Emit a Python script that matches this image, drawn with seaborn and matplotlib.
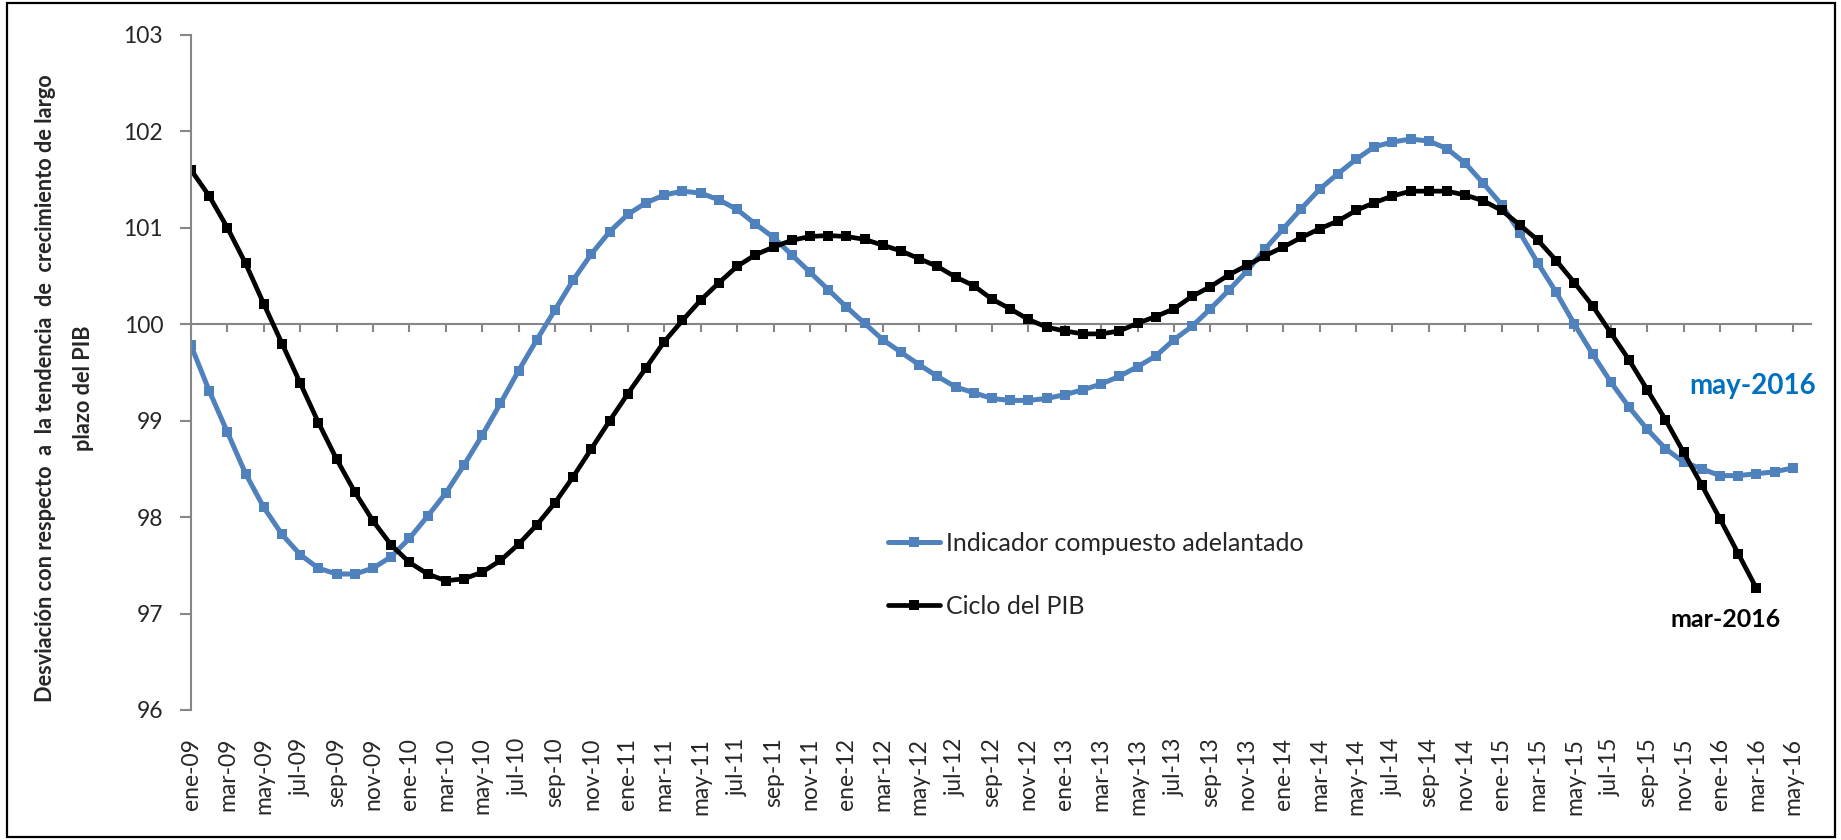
import matplotlib
matplotlib.use("Agg")
import matplotlib.pyplot as plt
import seaborn as sns
import pandas as pd
from matplotlib.patches import Rectangle

# monthly data, ene-2009 .. may-2016
indicador = [99.78, 99.31, 98.88, 98.45, 98.10, 97.82, 97.61, 97.47, 97.41, 97.41,
             97.47, 97.59, 97.78, 98.01, 98.25, 98.54, 98.85, 99.18, 99.52, 99.84,
             100.15, 100.46, 100.73, 100.96, 101.14, 101.26, 101.34, 101.38, 101.36, 101.29,
             101.19, 101.04, 100.90, 100.72, 100.54, 100.36, 100.18, 100.01, 99.84, 99.71,
             99.58, 99.46, 99.35, 99.29, 99.23, 99.21, 99.21, 99.23, 99.27, 99.32,
             99.38, 99.46, 99.56, 99.67, 99.84, 99.98, 100.16, 100.35, 100.55, 100.78,
             100.99, 101.20, 101.40, 101.56, 101.71, 101.84, 101.89, 101.92, 101.90, 101.82,
             101.67, 101.46, 101.24, 100.95, 100.63, 100.33, 100.00, 99.69, 99.40, 99.14,
             98.91, 98.71, 98.57, 98.50, 98.43, 98.43, 98.45, 98.47, 98.51]

ciclo_pib = [101.60, 101.33, 101.00, 100.63, 100.21, 99.80, 99.39, 98.98, 98.60, 98.26,
             97.96, 97.71, 97.53, 97.41, 97.34, 97.36, 97.43, 97.55, 97.72, 97.92,
             98.15, 98.42, 98.71, 99.00, 99.28, 99.55, 99.82, 100.04, 100.25, 100.43,
             100.60, 100.72, 100.80, 100.87, 100.91, 100.92, 100.91, 100.88, 100.82, 100.76,
             100.68, 100.60, 100.49, 100.40, 100.26, 100.16, 100.05, 99.97, 99.93, 99.90,
             99.90, 99.93, 100.01, 100.08, 100.16, 100.29, 100.39, 100.51, 100.61, 100.71,
             100.80, 100.90, 100.99, 101.07, 101.18, 101.26, 101.33, 101.38, 101.38, 101.38,
             101.34, 101.28, 101.18, 101.03, 100.87, 100.66, 100.43, 100.19, 99.91, 99.63,
             99.32, 99.01, 98.67, 98.33, 97.98, 97.62, 97.26]

meses = ["ene", "mar", "may", "jul", "sep", "nov"]
anios = ["09", "10", "11", "12", "13", "14", "15", "16"]
tick_labels = [f"{m}-{a}" for a in anios for m in meses][:-3]  # ... may-16
y_ticks = [96, 97, 98, 99, 100, 101, 102, 103]

df_ind = pd.DataFrame({"mes": range(len(indicador)), "valor": indicador})
df_pib = pd.DataFrame({"mes": range(len(ciclo_pib)), "valor": ciclo_pib})

sns.set_style("white")
plt.rcParams["font.family"] = ["Lato", "DejaVu Sans"]

AZUL = "#4F81BD"
GRIS = "#868686"

fig = plt.figure(figsize=(18.41, 8.40), dpi=100)
ax = fig.add_axes([0.10375, 0.1548, 0.8800, 0.8036])

sns.lineplot(data=df_ind, x="mes", y="valor", ax=ax, color=AZUL, linewidth=3.6,
             marker="s", markersize=6.5, markeredgewidth=0,
             label="Indicador compuesto adelantado")
sns.lineplot(data=df_pib, x="mes", y="valor", ax=ax, color="black", linewidth=3.4,
             marker="s", markersize=6.5, markeredgewidth=0, label="Ciclo del PIB")

ax.set_xlim(0, 89)
ax.set_ylim(96, 103)
ax.set_yticks(y_ticks)
ax.set_xticks(range(0, len(indicador), 2))
ax.set_xticklabels(tick_labels, rotation=90, fontsize=16.5)
ax.tick_params(axis="x", length=0, pad=20)
ax.tick_params(axis="y", labelsize=16.5, length=8, width=1.5, color=GRIS,
               direction="out", pad=12, left=True)
ax.set_xlabel("")
ax.set_ylabel("")

for s in ["top", "right", "bottom"]:
    ax.spines[s].set_visible(False)
ax.spines["left"].set_color(GRIS)
ax.spines["left"].set_linewidth(1.5)

# horizontal axis crossing at 100 with its own tick marks
sec = ax.secondary_xaxis((100 - 96) / 7)
sec.set_xticks(range(0, len(indicador), 2))
sec.set_xticklabels([])
sec.tick_params(direction="in", length=6, width=1.5, color=GRIS)
for s in sec.spines.values():
    s.set_color(GRIS)
    s.set_linewidth(1.5)

leg = ax.legend(loc="center left", bbox_to_anchor=(0.430, 0.2), frameon=False,
                fontsize=18, handlelength=2.1, handletextpad=0.25,
                labelspacing=1.6, borderpad=0, borderaxespad=0)

ax.annotate("may-2016", xy=(len(indicador) - 1, indicador[-1]),
            xytext=(-29, 59), textcoords="offset points", ha="center", va="center",
            fontsize=20, fontweight="bold", color="#0070C0")
ax.annotate("mar-2016", xy=(len(ciclo_pib) - 1, ciclo_pib[-1]),
            xytext=(-22, -22), textcoords="offset points", ha="center", va="center",
            fontsize=18, fontweight="bold", color="black")

fig.text(0.035, 0.538,
         "Desviación con respecto  a  la tendencia  de  crecimiento de largo\nplazo del PIB",
         rotation=90, ha="center", va="center", multialignment="center",
         fontsize=15.7, fontweight="bold", linespacing=2.0)

fig.patches.append(Rectangle((0.004, 0.004), 0.993, 0.992, transform=fig.transFigure,
                             fill=False, edgecolor="black", linewidth=1.6))

fig.savefig("out.png", dpi=100)
